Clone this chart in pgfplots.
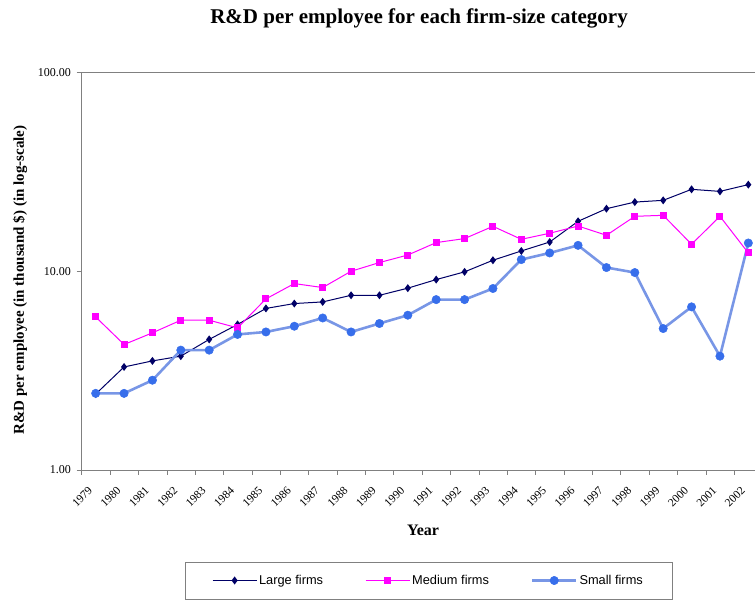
\documentclass[border=0pt]{standalone}
\usepackage{fontspec}
\setmainfont{Liberation Serif}
\newfontfamily\legfont{Liberation Sans}
\usepackage{pgfplots}
\pgfplotsset{compat=1.18}
\definecolor{largec}{RGB}{0,0,102}
\definecolor{medc}{RGB}{255,0,255}
\definecolor{smallc}{RGB}{55,110,235}
\definecolor{smallline}{RGB}{120,150,230}
\definecolor{framec}{RGB}{128,128,128}
\begin{document}
\begin{tikzpicture}
\useasboundingbox (0pt,0pt) rectangle (755pt,-604pt);
\begin{axis}[
  at={(81.5pt,-470pt)}, anchor=south west,
  scale only axis, width=681pt, height=397.5pt,
  xmin=1978.5, xmax=2002.5,
  ymode=log, ymin=1, ymax=100,
  ytick={1,10,100}, yticklabels={1.00,10.00,100.00},
  yminorticks=false,
  xtick pos=bottom, ytick pos=left,
  xtick={1978.5,1979.5,...,2002.5}, xticklabels={},
  xticklabel shift=13pt,
  extra x ticks={1979,1980,1981,1982,1983,1984,1985,1986,1987,1988,1989,1990,1991,1992,1993,1994,1995,1996,1997,1998,1999,2000,2001,2002},
  extra x tick labels={1979,1980,1981,1982,1983,1984,1985,1986,1987,1988,1989,1990,1991,1992,1993,1994,1995,1996,1997,1998,1999,2000,2001,2002},
  extra x tick style={major tick length=0pt, xticklabel shift=13pt, tick label style={rotate=45, anchor=east, xshift=-4pt}},
  tick align=outside, major tick length=5pt,
  axis line style={framec},
  tick style={framec},
  /pgf/number format/assume math mode=true,
  tick label style={font=\fontsize{11.5}{12}\selectfont},
  yticklabel style={font=\fontsize{12}{13}\selectfont, xshift=-2pt},
  legend style={at={(0.5095,-0.278)}, anchor=center, legend columns=3, draw=framec,
    font=\legfont\fontsize{12.8}{14}\selectfont, inner xsep=27pt, inner ysep=11pt,
    /tikz/every even column/.append style={column sep=40pt}},
  legend image code/.code={\draw[mark repeat=2,mark phase=2] plot coordinates {(0pt,0pt) (22pt,0pt) (44pt,0pt)};},
]
\addplot[color=largec, line width=1pt, mark=diamond*, mark size=3.2pt, mark options={solid, fill=largec}] coordinates {
(1979,2.41) (1980,3.30) (1981,3.54) (1982,3.74) (1983,4.54) (1984,5.40) (1985,6.50) (1986,6.88) (1987,7.01) (1988,7.57) (1989,7.57) (1990,8.22) (1991,9.08) (1992,9.93) (1993,11.36) (1994,12.65) (1995,14.03) (1996,17.84) (1997,20.64) (1998,22.29) (1999,22.74) (2000,25.83) (2001,25.23) (2002,27.28)};
\addlegendentry{Large firms}
\addplot[color=medc, line width=1pt, mark=square*, mark size=3pt, mark options={solid, fill=medc}] coordinates {
(1979,5.89) (1980,4.28) (1981,4.90) (1982,5.67) (1983,5.67) (1984,5.19) (1985,7.26) (1986,8.67) (1987,8.28) (1988,10.0) (1989,11.06) (1990,12.07) (1991,13.94) (1992,14.60) (1993,16.83) (1994,14.48) (1995,15.53) (1996,16.89) (1997,15.17) (1998,18.90) (1999,19.12) (2000,13.67) (2001,18.90) (2002,12.36)};
\addlegendentry{Medium firms}
\addplot[color=smallline, line width=2.6pt, mark=*, mark size=4.2pt, mark options={solid, draw=smallc, fill=smallc, line width=0.5pt}] coordinates {
(1979,2.43) (1980,2.43) (1981,2.83) (1982,4.01) (1983,4.01) (1984,4.81) (1985,4.95) (1986,5.29) (1987,5.82) (1988,4.95) (1989,5.46) (1990,6.01) (1991,7.20) (1992,7.20) (1993,8.19) (1994,11.45) (1995,12.36) (1996,13.50) (1997,10.44) (1998,9.85) (1999,5.15) (2000,6.62) (2001,3.74) (2002,13.87)};
\addlegendentry{Small firms}
\end{axis}
\node[font=\bfseries\fontsize{21}{24}\selectfont] at (419pt,-18pt) {R\&D per employee for each firm-size category};
\node[font=\bfseries\fontsize{15}{17}\selectfont, rotate=90] at (20pt,-280pt) {R\&D per employee (in thousand \$) (in log-scale)};
\node[font=\bfseries\fontsize{16}{18}\selectfont] at (423pt,-530pt) {Year};
\end{tikzpicture}
\end{document}
